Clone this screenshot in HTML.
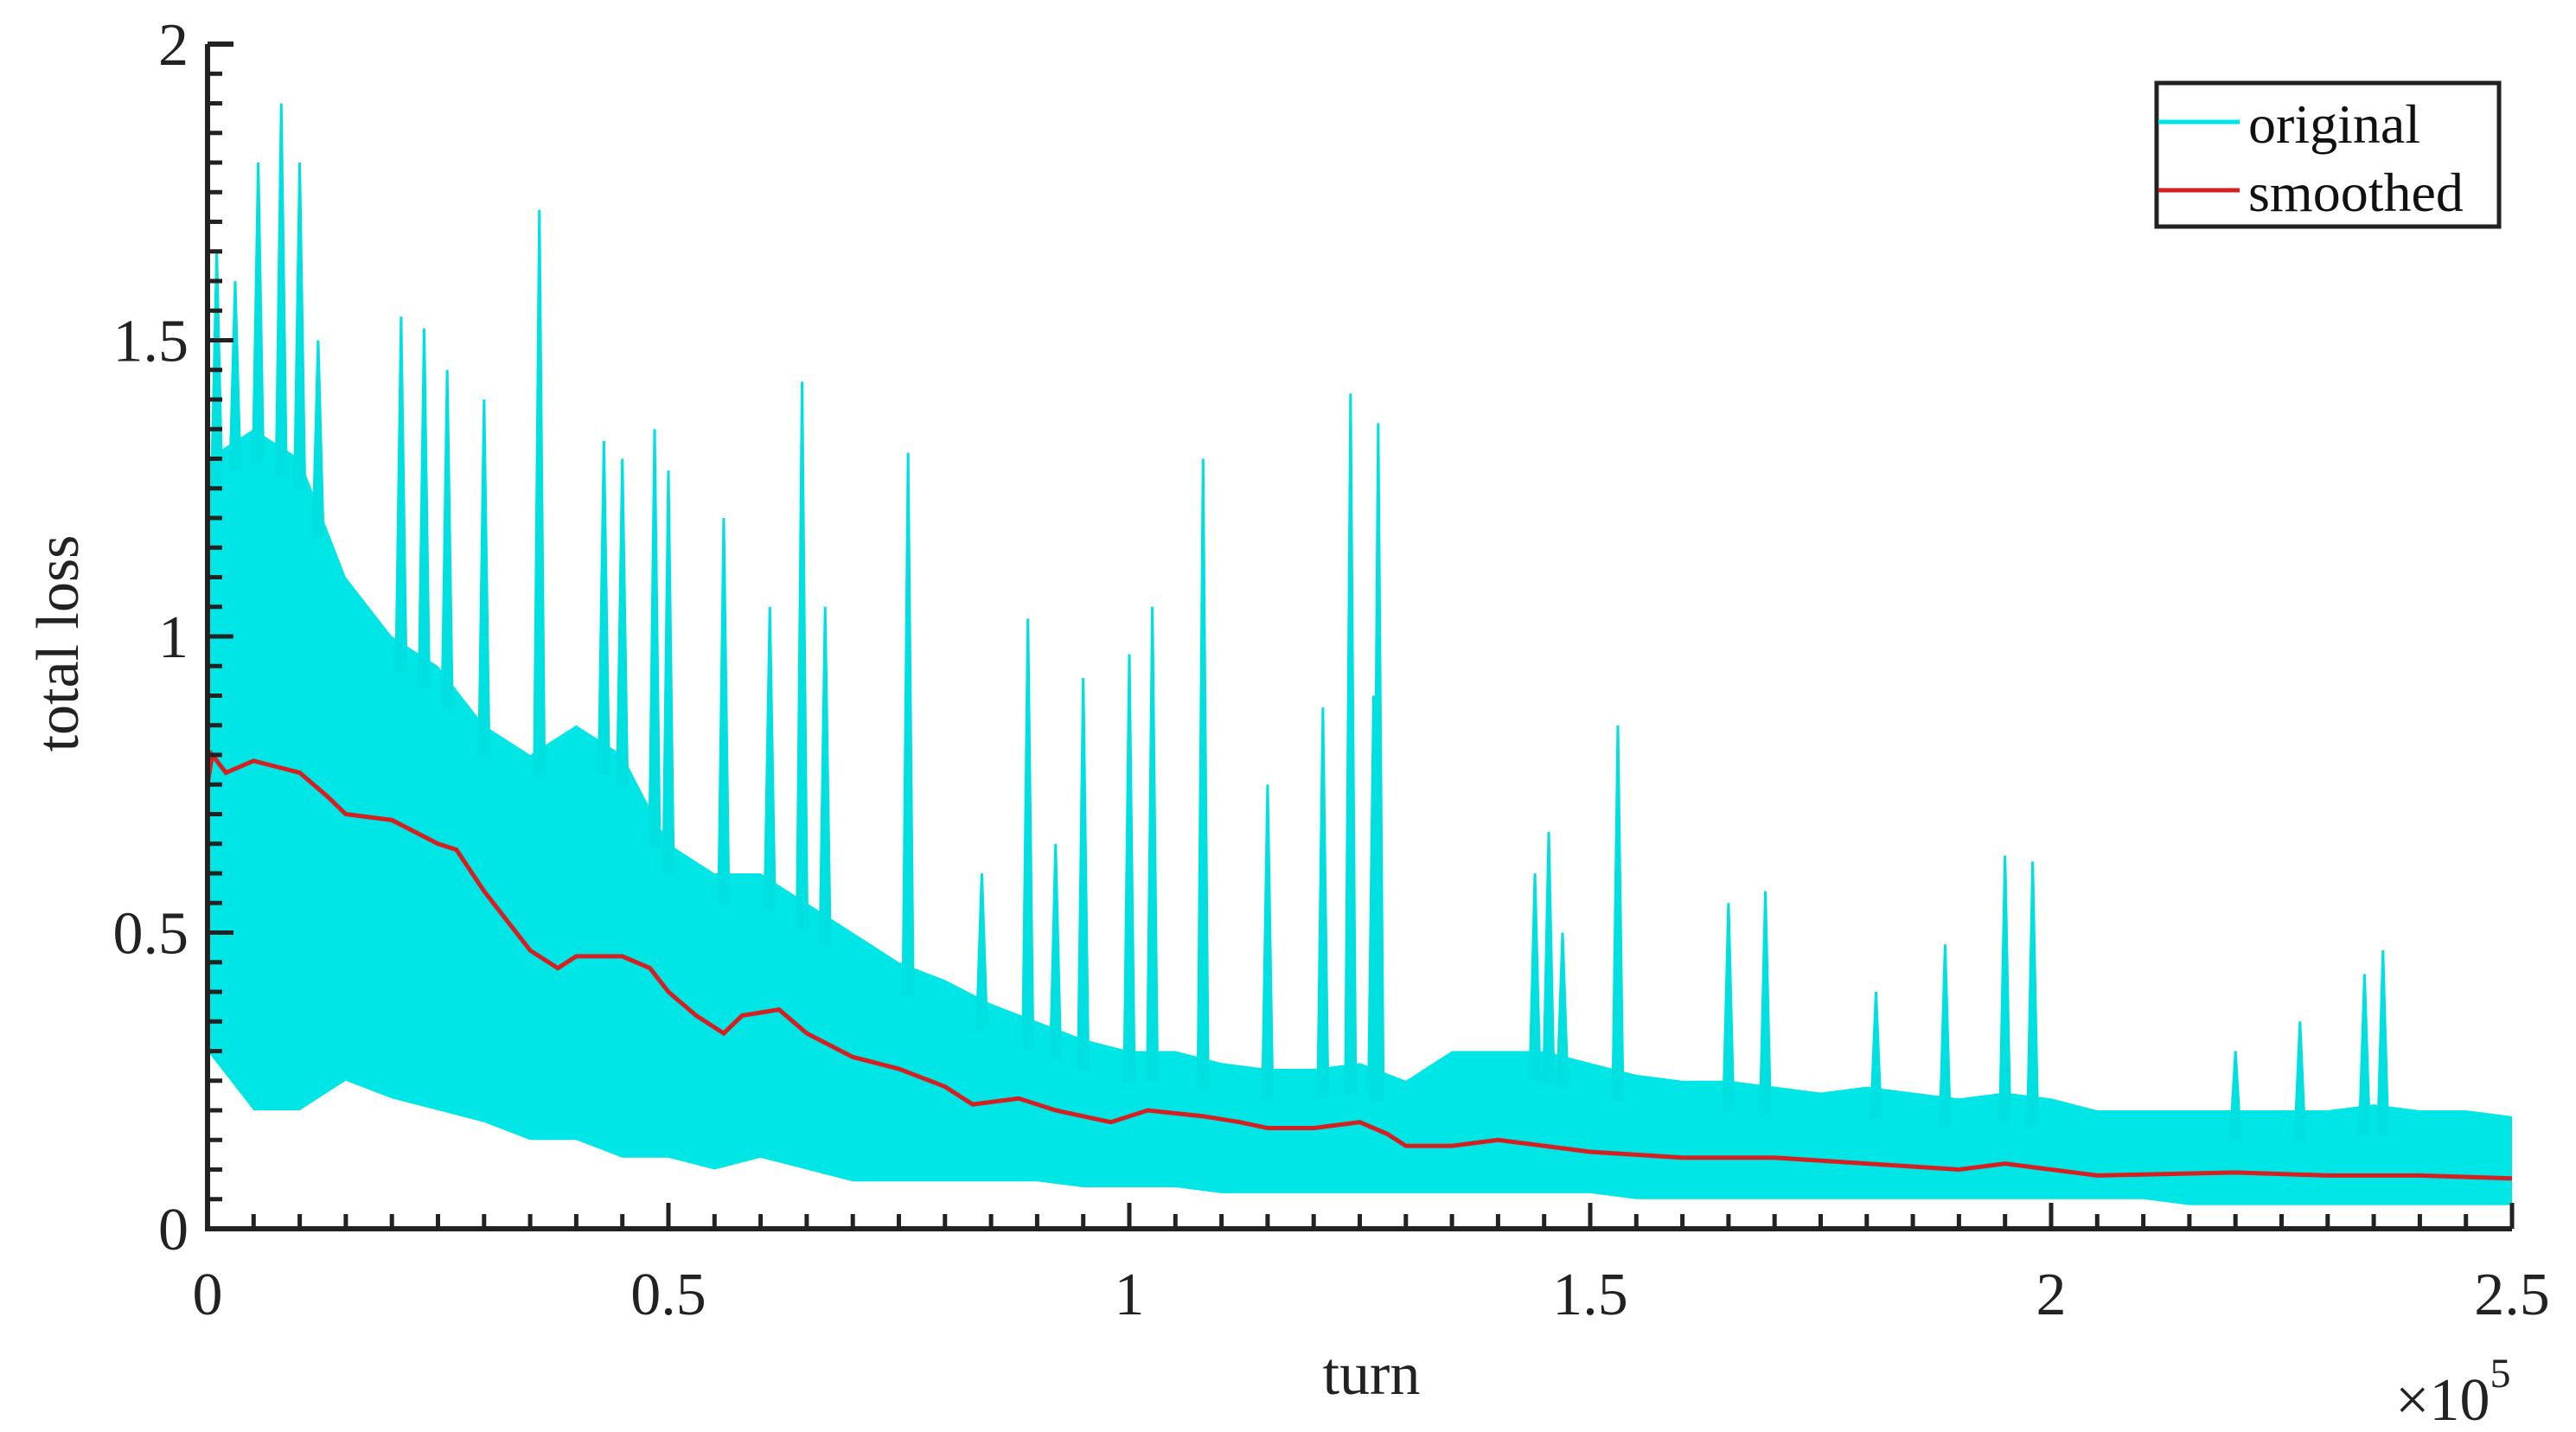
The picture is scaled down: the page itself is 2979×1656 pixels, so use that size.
<!DOCTYPE html>
<html><head><meta charset="utf-8"><style>
html,body{margin:0;padding:0;background:#fff;}
svg{display:block;font-family:"Liberation Serif",serif;}
</style></head><body>
<svg id="chart" width="2979" height="1656" viewBox="0 0 2979 1656" xmlns="http://www.w3.org/2000/svg">
<g id="plot"></g>
<g id="axes"></g>
<text x="1586" y="1612" font-size="70" text-anchor="middle" fill="#222">turn</text>
<text x="2770" y="1642" font-size="70" fill="#222">×10<tspan font-size="48" dy="-38">5</tspan></text>
<text transform="translate(90,744) rotate(-90)" font-size="70" text-anchor="middle" fill="#222">total loss</text>
<g>
<rect x="2494" y="96" width="396" height="166" fill="#fff" stroke="#222" stroke-width="5"/>
<line x1="2496" y1="141" x2="2590" y2="141" stroke="#00e5e5" stroke-width="5"/>
<text x="2600" y="165" font-size="64" fill="#111">original</text>
<line x1="2496" y1="220" x2="2590" y2="220" stroke="#d42020" stroke-width="5"/>
<text x="2600" y="244" font-size="64" fill="#111">smoothed</text>
</g>
</svg>
<script>
const envX = [0,0.05,0.1,0.15,0.2,0.25,0.3,0.35,0.4,0.45,0.5,0.55,0.6,0.65,0.7,0.75,0.8,0.85,0.9,0.95,1.0,1.05,1.1,1.15,1.2,1.25,1.3,1.35,1.4,1.45,1.5,1.55,1.6,1.65,1.7,1.75,1.8,1.85,1.9,1.95,2.0,2.05,2.1,2.15,2.2,2.25,2.3,2.35,2.4,2.45,2.5];
const envUpper = [1.3,1.35,1.3,1.1,1.0,0.95,0.85,0.8,0.85,0.8,0.65,0.6,0.6,0.55,0.5,0.45,0.42,0.38,0.35,0.32,0.3,0.3,0.28,0.27,0.27,0.28,0.25,0.3,0.3,0.3,0.28,0.26,0.25,0.25,0.24,0.23,0.24,0.23,0.22,0.23,0.22,0.2,0.2,0.2,0.2,0.2,0.2,0.21,0.2,0.2,0.19];
const envLower = [0.3,0.2,0.2,0.25,0.22,0.2,0.18,0.15,0.15,0.12,0.12,0.1,0.12,0.1,0.08,0.08,0.08,0.08,0.08,0.07,0.07,0.07,0.06,0.06,0.06,0.06,0.06,0.06,0.06,0.06,0.06,0.05,0.05,0.05,0.05,0.05,0.05,0.05,0.05,0.05,0.05,0.05,0.05,0.04,0.04,0.04,0.04,0.04,0.04,0.04,0.04];
const spikeX = [0.01,0.03,0.055,0.08,0.1,0.12,0.21,0.235,0.26,0.3,0.36,0.43,0.45,0.485,0.5,0.56,0.61,0.645,0.67,0.76,0.84,0.89,0.92,0.95,1.0,1.025,1.08,1.15,1.21,1.24,1.265,1.27,1.44,1.455,1.47,1.53,1.65,1.69,1.81,1.885,1.95,1.98,2.2,2.27,2.34,2.36];
const spikeY = [1.65,1.6,1.8,1.9,1.8,1.5,1.54,1.52,1.45,1.4,1.72,1.33,1.3,1.35,1.28,1.2,1.05,1.43,1.05,1.31,0.6,1.03,0.65,0.93,0.97,1.05,1.3,0.75,0.88,1.41,0.9,1.36,0.6,0.67,0.5,0.85,0.55,0.57,0.4,0.48,0.63,0.62,0.3,0.35,0.43,0.47];
const smX = [0,0.005,0.02,0.05,0.1,0.13,0.15,0.2,0.25,0.27,0.3,0.32,0.35,0.38,0.4,0.45,0.48,0.5,0.53,0.56,0.58,0.62,0.65,0.7,0.75,0.8,0.83,0.88,0.92,0.98,1.02,1.08,1.12,1.15,1.2,1.25,1.28,1.3,1.35,1.4,1.45,1.5,1.6,1.7,1.8,1.9,1.95,2.0,2.05,2.2,2.3,2.4,2.5];
const smY = [0.75,0.8,0.77,0.79,0.77,0.73,0.7,0.69,0.65,0.64,0.57,0.53,0.47,0.44,0.46,0.46,0.44,0.4,0.36,0.33,0.36,0.37,0.33,0.29,0.27,0.24,0.21,0.22,0.2,0.18,0.2,0.19,0.18,0.17,0.17,0.18,0.16,0.14,0.14,0.15,0.14,0.13,0.12,0.12,0.11,0.1,0.11,0.1,0.09,0.095,0.09,0.09,0.085];
const xTicks = [0,0.5,1,1.5,2,2.5];
const xTickLabels = ["0","0.5","1","1.5","2","2.5"];
const yTicks = [0,0.5,1,1.5,2];
const yTickLabels = ["0","0.5","1","1.5","2"];

const X0=240, X1=2905, Y0=1421, Y1=51;
const sx = v => X0 + (v/2.5)*(X1-X0);
const sy = v => Y0 - (v/2)*(Y0-Y1);
const NS="http://www.w3.org/2000/svg";
const plot=document.getElementById('plot'), axes=document.getElementById('axes');
function mk(tag, attrs, parent){const e=document.createElementNS(NS,tag);for(const k in attrs)e.setAttribute(k,attrs[k]);parent.appendChild(e);return e;}
function upperAt(x){for(let i=0;i<envX.length-1;i++){if(x>=envX[i]&&x<=envX[i+1]){const t=(x-envX[i])/(envX[i+1]-envX[i]);return envUpper[i]+t*(envUpper[i+1]-envUpper[i]);}}return envUpper[envUpper.length-1];}

let pts=[];
envX.forEach((x,i)=>pts.push(sx(x)+','+sy(envUpper[i])));
for(let i=envX.length-1;i>=0;i--)pts.push(sx(envX[i])+','+sy(envLower[i]));
const band=mk('polygon',{points:pts.join(' '),fill:'#00e6e6'},plot);


spikeX.forEach((x,i)=>{
  const b=upperAt(x)-0.05;
  const l=mk('polygon',{points:(sx(x)-6)+','+sy(b)+' '+sx(x)+','+sy(spikeY[i])+' '+(sx(x)+6)+','+sy(b),fill:'#00e0e0',stroke:'#00e0e0','stroke-width':3},plot);
  
  
});
const sm=mk('polyline',{points:smX.map((x,i)=>sx(x)+','+sy(smY[i])).join(' '),fill:'none',stroke:'#d42020','stroke-width':5},plot);



const ax=mk('path',{d:`M${X0},${Y1} L${X0},${Y0} L${X1},${Y0}`,fill:'none',stroke:'#222','stroke-width':6},axes);


const t1=mk('line',{x1:X0,y1:Y1,x2:X0+30,y2:Y1,stroke:'#222','stroke-width':6},axes);


for(let k=0;k<=50;k++){const v=k*0.05,x=sx(v),len=(k%10==0)?30:17;
  const t=mk('line',{x1:x,y1:Y0,x2:x,y2:Y0-len,stroke:'#222','stroke-width':5},axes);
  
  }
for(let k=0;k<=40;k++){const v=k*0.05,y=sy(v),len=(k%10==0)?30:17;
  const t=mk('line',{x1:X0,y1:y,x2:X0+len,y2:y,stroke:'#222','stroke-width':5},axes);
  
  }
xTicks.forEach((v,i)=>{const t=mk('text',{x:sx(v),y:1520,'font-size':70,'text-anchor':'middle',fill:'#222'},axes);t.textContent=xTickLabels[i];
  
  });
yTicks.forEach((v,i)=>{const t=mk('text',{x:218,y:sy(v)+24,'font-size':70,'text-anchor':'end',fill:'#222'},axes);t.textContent=yTickLabels[i];
  
  });
</script>
</body></html>
